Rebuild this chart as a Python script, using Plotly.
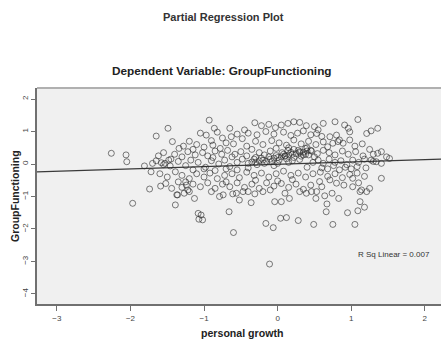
import plotly.graph_objects as go

# personal growth (x) and GroupFunctioning (y) residuals
growth = [
    -2.26,-2.06,-2.05,-1.65,-1.49,-1.43,-1.34,-1.81,-1.70,-1.72,
    -1.58,-1.48,-1.46,-1.39,-1.74,-1.59,-1.44,-1.30,-1.24,-1.22,
    -1.36,-1.97,-1.39,-1.37,-1.27,-1.20,-1.13,-1.08,-1.07,-0.66,
    -0.60,-1.04,-1.02,-0.16,-0.06,0.04,0.12,0.28,-0.11,-0.36,
    -0.52,-0.79,-0.74,-0.31,-0.20,-0.61,-0.56,-0.47,-0.04,0.05,
    0.16,0.39,0.49,0.75,1.05,0.66,0.95,1.09,1.18,0.67,
    0.52,0.64,0.74,0.83,1.12,0.46,0.53,1.12,1.21,1.09,
    0.78,0.62,0.91,0.96,0.98,1.21,1.27,1.36,0.50,0.53,
    0.71,0.80,0.84,0.98,1.25,1.36,1.41,1.48,1.52,1.41,
    1.27,1.34,1.41,0.57,0.71,0.80,1.02,1.02,1.14,1.25,
    0.68,0.75,0.82,0.89,-0.93,-0.86,-0.97,-0.65,-0.63,-1.53,
    -0.31,-0.22,-0.12,-0.03,0.05,0.14,0.22,0.30,0.39,-0.45,
    -0.40,-0.28,-0.16,-0.05,0.08,0.18,0.27,0.35,0.45,0.55,
    -1.05,-0.82,-0.75,-0.55,-1.20,-1.10,-0.90,-0.70,-0.48,0.60,
    -1.28,-1.15,-1.00,-0.88,-0.78,-0.60,-0.42,-0.30,-0.20,-0.08,
    0.02,0.12,0.22,0.32,0.42,0.52,0.62,1.05,1.15,0.40,
    -1.62,-1.55,-1.40,-1.30,-1.22,-1.12,-1.02,-0.95,-0.85,-0.76,
    -0.68,-0.58,-0.50,-0.42,-0.35,-0.25,-0.18,-0.10,-0.02,0.06,
    0.14,0.22,0.30,0.38,0.46,0.54,0.62,0.70,0.78,0.88,
    0.96,1.06,1.16,1.30,-0.88,-0.62,-0.30,0.10,0.35,0.15,
    -0.40,-0.35,-0.30,-0.25,-0.20,-0.15,-0.10,-0.05,0.00,0.05,
    0.10,0.15,0.20,0.25,0.30,0.35,0.40,0.45,-0.32,-0.22,
    -0.12,-0.02,0.08,0.18,0.28,0.38,-0.18,-0.08,0.02,0.12,
    0.22,0.32,0.42,0.50,-0.28,0.00,0.20,0.30,0.15,-0.05,
    -1.65,-1.55,-1.45,-1.35,-1.25,-1.18,-1.08,-0.98,-0.90,-0.80,
    -0.72,-0.65,-0.55,-0.48,-0.40,-0.55,-0.70,-0.85,-1.00,-1.15,
    0.55,0.62,0.70,0.78,0.86,0.94,1.02,1.10,1.18,0.60,
    0.68,0.76,0.84,0.92,1.00,1.08,1.20,1.30,0.48,0.40,
    -1.60,-1.50,-1.30,-1.20,-1.10,-1.00,-0.92,-0.82,-0.72,-0.62,
    -0.52,-0.42,-0.32,-0.22,-0.12,-0.02,0.08,0.18,0.28,0.38,
    0.48,0.58,0.68,0.78,0.88,0.98,1.08,1.18,-0.30,0.20,
    -1.52,-1.35,-1.15,-1.05,-0.95,-0.85,-0.75,-0.65,-0.55,-0.45,
    -0.35,-0.25,-0.15,-0.05,0.05,0.15,0.25,0.35,0.45,0.60,
    0.90,1.10,-0.90,-0.40,-0.10,0.30,-0.70,0.00,-1.25,0.10,
]
group_functioning = [
    0.33,0.28,0.07,0.86,1.10,0.69,0.48,-0.06,0.02,-0.24,
    0.04,0.12,-0.06,-0.24,-0.77,-0.68,-0.75,-0.72,-0.65,-0.80,
    -0.95,-1.21,-1.26,-0.95,-0.90,-0.85,-1.06,-1.52,-1.70,-1.47,
    -2.11,-1.57,-1.72,-1.83,-1.96,-1.67,-1.65,-1.74,-3.08,-1.19,
    -1.11,-1.00,-0.95,-0.92,-0.85,-0.92,-0.90,-0.85,-1.16,-1.16,
    -1.06,-0.90,-1.86,-1.86,-1.86,-1.47,-1.50,-1.44,-1.33,-1.23,
    -1.06,-0.98,-0.90,-1.06,-1.16,-0.85,-0.85,-0.85,-0.85,1.37,
    1.30,1.25,1.20,1.10,0.99,0.94,1.02,1.10,1.15,0.94,
    0.84,0.89,0.74,0.74,0.45,0.33,0.38,0.22,0.17,-0.44,
    0.12,0.07,0.02,-0.54,-0.49,-0.59,-0.44,-0.70,-0.80,-0.75,
    0.53,0.64,0.69,0.64,1.35,1.10,0.89,1.10,0.84,0.02,
    1.27,1.18,1.22,1.12,1.20,1.25,1.30,1.28,1.18,1.05,
    0.95,0.90,1.00,0.92,0.98,0.88,0.95,1.02,0.90,1.05,
    0.95,0.98,0.80,0.92,0.70,0.60,0.72,0.65,0.78,0.85,
    0.55,0.45,0.52,0.58,0.48,0.62,0.55,0.70,0.60,0.72,
    0.65,0.58,0.74,0.62,0.70,0.60,0.68,0.55,0.62,0.50,
    0.25,0.35,0.30,0.22,0.38,0.28,0.35,0.25,0.40,0.30,
    0.42,0.30,0.38,0.25,0.45,0.35,0.28,0.40,0.48,0.35,
    0.42,0.45,0.38,0.48,0.40,0.32,0.42,0.35,0.28,0.40,
    0.30,0.38,0.25,0.30,0.20,0.22,0.20,0.25,0.28,0.50,
    0.02,0.06,0.05,0.10,0.12,0.08,0.15,0.18,0.20,0.22,
    0.24,0.28,0.30,0.32,0.35,0.36,0.40,0.42,0.15,0.18,
    0.22,0.26,0.30,0.36,0.42,0.30,0.02,0.08,0.12,0.16,
    0.20,0.24,0.28,0.22,-0.02,0.02,0.10,0.14,0.05,-0.05,
    0.10,-0.02,0.15,0.08,-0.05,0.12,0.05,-0.10,0.10,0.00,
    0.12,-0.08,0.05,0.15,-0.12,-0.18,-0.15,-0.20,-0.15,-0.18,
    0.12,0.02,0.15,0.05,0.10,-0.02,0.12,0.05,0.15,-0.12,
    -0.15,-0.05,-0.18,-0.10,-0.15,-0.08,-0.12,0.08,0.05,-0.10,
    -0.30,-0.40,-0.35,-0.45,-0.30,-0.40,-0.28,-0.45,-0.35,-0.30,
    -0.42,-0.25,-0.35,-0.28,-0.40,-0.30,-0.22,-0.35,-0.28,-0.40,
    -0.30,-0.25,-0.38,-0.30,-0.42,-0.32,-0.28,-0.38,-0.50,-0.48,
    -0.60,-0.55,-0.62,-0.70,-0.58,-0.75,-0.62,-0.70,-0.58,-0.72,
    -0.62,-0.75,-0.58,-0.68,-0.60,-0.72,-0.62,-0.78,-0.65,-0.70,
    -0.65,-0.58,-0.85,-0.85,-0.80,-0.85,-0.55,-0.52,-0.55,-0.90,
]

# fitted line end points
fit_x = [-3.27, 2.22]
fit_y = [-0.24, 0.15]

x_ticks = [-3, -2, -1, 0, 1, 2]
y_ticks = [2, 1, 0, -1, -2, -3, -4]

FONT = "Arial, Liberation Sans, sans-serif"
W, H = 442, 340
ML, MR, MT, MB = 37, 1, 88, 36

fig = go.Figure()
fig.add_trace(go.Scatter(
    x=fit_x, y=fit_y, mode="lines",
    line=dict(color="#3a3a3a", width=1.2), hoverinfo="skip", showlegend=False))
fig.add_trace(go.Scatter(
    x=growth, y=group_functioning, mode="markers",
    marker=dict(symbol="circle-open", size=6, color="rgba(40,40,40,0.6)",
                line=dict(width=1)),
    showlegend=False))

fig.update_layout(
    width=W, height=H,
    margin=dict(l=ML, r=MR, t=MT, b=MB),
    paper_bgcolor="white", plot_bgcolor="#f0f0f0",
    font=dict(family=FONT, color="#222"),
    xaxis=dict(range=[-3.27, 2.22], tickvals=x_ticks, showgrid=False, zeroline=False,
               showline=True, linecolor="#707070", linewidth=2, mirror=False,
               ticks="outside", ticklen=5, tickcolor="#707070",
               tickfont=dict(size=8, color="#444")),
    yaxis=dict(range=[-4.31, 2.34], tickvals=y_ticks, showgrid=False, zeroline=False,
               showline=True, linecolor="#707070", linewidth=2, mirror=False,
               ticks="outside", ticklen=4, tickcolor="#707070", tickangle=-90,
               tickfont=dict(size=8, color="#444")),
    shapes=[dict(type="line", xref="paper", yref="paper", x0=0, x1=1, y0=1, y1=1,
                 line=dict(color="#b0b0b0", width=2))],
)


def px_x(p):
    return (p - ML) / (W - ML - MR)


def px_y(p):
    return (H - MB - p) / (H - MT - MB)


def label(text, x, y, size, angle=0, color="#222"):
    fig.add_annotation(text=text, x=px_x(x), y=px_y(y), xref="paper", yref="paper",
                       xanchor="center", yanchor="middle", showarrow=False,
                       textangle=angle, font=dict(size=size, color=color))


label("<b>Partial Regression Plot</b>", 223, 17, 11, color="#333")
label("<b>Dependent Variable: GroupFunctioning</b>", 222, 71, 11.8)
label("<b>GroupFunctioning</b>", 15, 196, 10.5, angle=-90)
label("<b>personal growth</b>", 242, 333, 10.6)
label("R Sq Linear = 0.007", 394, 254, 8, color="#333")

fig.write_html("out.html")
